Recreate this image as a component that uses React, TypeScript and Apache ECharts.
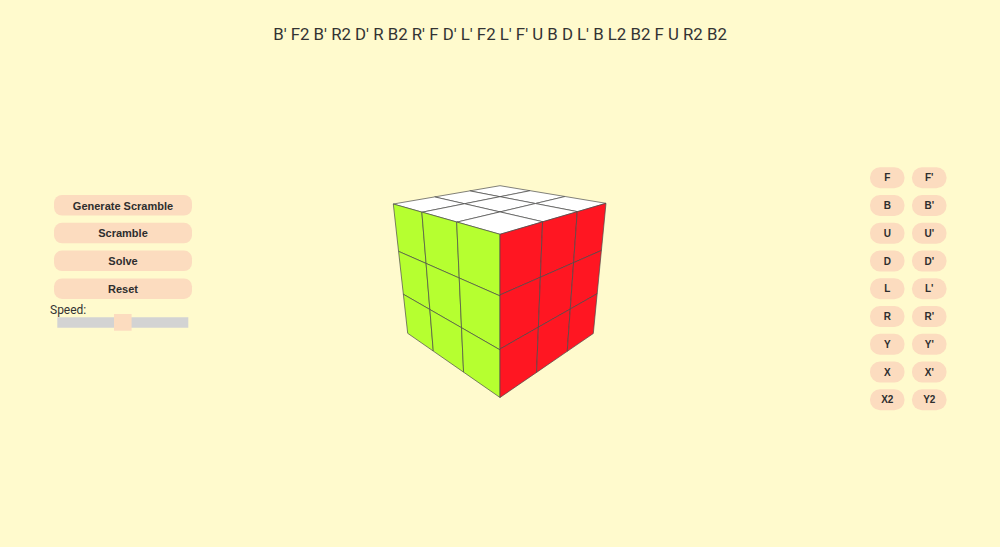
import React, { useEffect, useRef } from "react";
import * as echarts from "echarts";

const SCRAMBLE = "B' F2 B' R2 D' R B2 R' F D' L' F2 L' F' U B D L' B L2 B2 F U R2 B2";
const LEFT_BUTTONS = ["Generate Scramble", "Scramble", "Solve", "Reset"];
const MOVE_BUTTONS = [
  ["F", "F'"], ["B", "B'"], ["U", "U'"], ["D", "D'"], ["L", "L'"],
  ["R", "R'"], ["Y", "Y'"], ["X", "X'"], ["X2", "Y2"],
];
const SPEED_VALUE = 0.5; // slider position, 0..1

// visible faces of the cube and their sticker colours (row-major, 3x3)
const FACES = ["up", "left", "front"];
const UP_STICKERS = ["#ffffff", "#ffffff", "#ffffff", "#ffffff", "#ffffff", "#ffffff", "#ffffff", "#ffffff", "#ffffff"];
const LEFT_STICKERS = ["#b6ff30", "#b6ff30", "#b6ff30", "#b6ff30", "#b6ff30", "#b6ff30", "#b6ff30", "#b6ff30", "#b6ff30"];
const FRONT_STICKERS = ["#ff1622", "#ff1622", "#ff1622", "#ff1622", "#ff1622", "#ff1622", "#ff1622", "#ff1622", "#ff1622"];
const STICKERS = [UP_STICKERS, LEFT_STICKERS, FRONT_STICKERS];

// projected cube vertices (screen space of the 3D view)
const V = {
  topLeft: [393.3, 204],
  topBack: [500, 185.7],
  topRight: [606, 203.3],
  topFront: [500, 234.3],
  botLeft: [407.7, 333.3],
  botFront: [500, 397.5],
  botRight: [593.3, 333.5],
};
const FACE_QUADS = [
  [V.topBack, V.topRight, V.topFront, V.topLeft],
  [V.topLeft, V.topFront, V.botFront, V.botLeft],
  [V.topFront, V.topRight, V.botRight, V.botFront],
];

function homography(q: number[][]) {
  const [x0, y0] = q[0], [x1, y1] = q[1], [x2, y2] = q[2], [x3, y3] = q[3];
  const sx = x0 - x1 + x2 - x3, sy = y0 - y1 + y2 - y3;
  const dx1 = x1 - x2, dx2 = x3 - x2, dy1 = y1 - y2, dy2 = y3 - y2;
  const den = dx1 * dy2 - dx2 * dy1;
  const g = (sx * dy2 - dx2 * sy) / den;
  const h = (dx1 * sy - sx * dy1) / den;
  const a = x1 - x0 + g * x1, b = x3 - x0 + h * x3, c = x0;
  const d = y1 - y0 + g * y1, e = y3 - y0 + h * y3, f = y0;
  return (u: number, v: number) => {
    const w = g * u + h * v + 1;
    return [(a * u + b * v + c) / w, (d * u + e * v + f) / w];
  };
}

const data: number[][] = [];
FACES.forEach((_, fi) => {
  for (let r = 0; r < 3; r++) for (let c = 0; c < 3; c++) data.push([fi, r, c]);
});

const BUTTON_FILL = "#FCDCBF";

export default function App() {
  const ref = useRef<HTMLDivElement>(null);
  useEffect(() => {
    document.body.style.margin = "0";
    document.body.style.background = "#FFFACD";
    const chart = echarts.init(ref.current!, null, { renderer: "svg" });
    const graphics: any[] = [];
    graphics.push({
      type: "text",
      left: "center",
      top: 25,
      style: { text: SCRAMBLE, font: "16.8px Roboto", fill: "#333333" },
    });
    LEFT_BUTTONS.forEach((label, i) => {
      const y = 195 + i * 27.8;
      graphics.push({
        type: "rect",
        shape: { x: 54, y, width: 138, height: 20.5, r: 8 },
        style: { fill: BUTTON_FILL },
      });
      graphics.push({
        type: "text",
        x: 123,
        y: y + 10.5,
        style: {
          text: label,
          font: "bold 11px 'Liberation Sans', Arial",
          fill: "#2e2e2e",
          align: "center",
          verticalAlign: "middle",
        },
      });
    });
    graphics.push({
      type: "text",
      x: 50,
      y: 304,
      style: { text: "Speed:", font: "12px Roboto", fill: "#333333" },
    });
    graphics.push({
      type: "rect",
      shape: { x: 57.3, y: 317.3, width: 131, height: 10.4 },
      style: { fill: "#D3D3D3" },
    });
    graphics.push({
      type: "rect",
      shape: { x: 57.3 + SPEED_VALUE * 131 - 8.8, y: 314, width: 17.6, height: 16.7 },
      style: { fill: BUTTON_FILL },
    });
    MOVE_BUTTONS.forEach((row, i) => {
      const y = 167.3 + i * 27.75;
      row.forEach((label, j) => {
        const x = j === 0 ? 870 : 912;
        graphics.push({
          type: "rect",
          shape: { x, y, width: 34.5, height: 21, r: 10 },
          style: { fill: BUTTON_FILL },
        });
        graphics.push({
          type: "text",
          x: x + 17.25,
          y: y + 10.5,
          style: {
            text: label,
            font: "bold 10px 'Liberation Sans', Arial",
            fill: "#2e2e2e",
            align: "center",
            verticalAlign: "middle",
          },
        });
      });
    });

    chart.setOption({
      animation: false,
      backgroundColor: "#FFFACD",
      grid: { left: 0, right: 0, top: 0, bottom: 0 },
      xAxis: { type: "value", min: 0, max: 1000, show: false },
      yAxis: { type: "value", min: 0, max: 547, inverse: true, show: false },
      graphic: graphics,
      series: [
        {
          type: "custom",
          data,
          renderItem: (params: any, api: any) => {
            const fi = api.value(0), r = api.value(1), c = api.value(2);
            const H = homography(FACE_QUADS[fi]);
            const corners = [
              H(c / 3, r / 3),
              H((c + 1) / 3, r / 3),
              H((c + 1) / 3, (r + 1) / 3),
              H(c / 3, (r + 1) / 3),
            ].map((p) => api.coord(p));
            return {
              type: "polygon",
              shape: { points: corners },
              style: { fill: STICKERS[fi][r * 3 + c], stroke: "#4a4a4a", lineWidth: 0.7 },
            };
          },
        },
      ],
    });
    return () => chart.dispose();
  }, []);
  return (
    <div
      ref={ref}
      style={{ position: "fixed", left: 0, top: 0, width: 1000, height: 547 }}
    />
  );
}
